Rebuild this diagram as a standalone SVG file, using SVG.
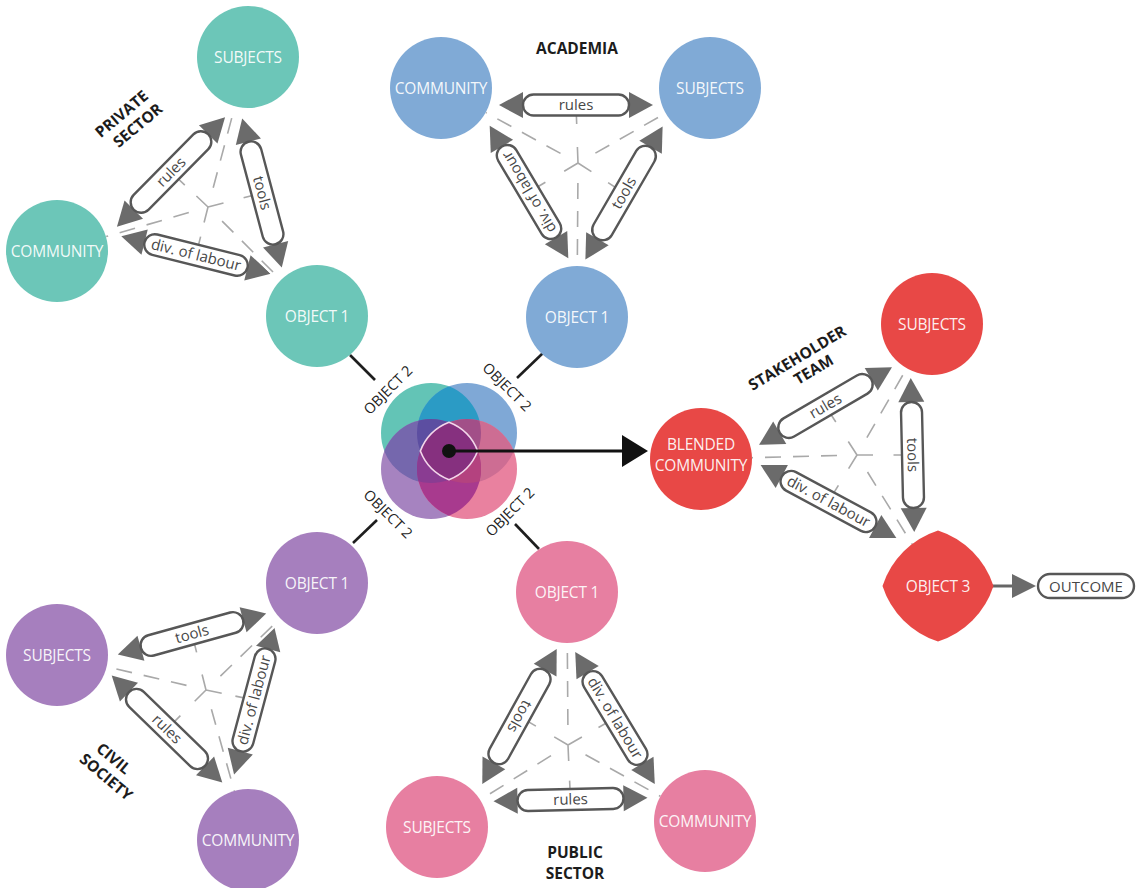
<svg xmlns="http://www.w3.org/2000/svg" width="1136" height="888" viewBox="0 0 1136 888">
<style>
.ah{fill:#6b6b6b}
.pill{fill:#fff;stroke:#575757;stroke-width:2.4}
.pt{font-family:"Open Sans","DejaVu Sans",sans-serif;font-size:15px;fill:#474747;text-anchor:middle}
.halo{stroke:#fff;stroke-width:6;fill:none}
.dash{stroke:#a9a9a9;stroke-width:1.6;stroke-dasharray:16 12;fill:none}
.tick{stroke:#a9a9a9;stroke-width:1.6;fill:none}
.nl{font-family:"Open Sans","DejaVu Sans",sans-serif;font-size:15.5px;fill:#fff;fill-opacity:0.93;text-anchor:middle;letter-spacing:-0.2px}
.sec{font-family:"Open Sans","DejaVu Sans",sans-serif;font-weight:700;font-size:15.5px;fill:#1c1c1c;text-anchor:middle}
.ob2{font-family:"Open Sans","DejaVu Sans",sans-serif;font-size:14.5px;fill:#222;text-anchor:middle}
.link{stroke:#1e1e1e;stroke-width:2.6}
.teal{fill:#6cc6b8}.blue{fill:#80aad6}.red{fill:#e84846}.purple{fill:#a67fbe}.pink{fill:#e77fa1}
</style>
<defs>
  <!-- double-headed relation band: two arrowheads with a label pill between them -->
  <g id="band">
    <polygon class="ah" points="-77,0 -53,-13 -53,13"/>
    <polygon class="ah" points="77,0 53,-13 53,13"/>
    <rect class="pill" x="-53" y="-10.5" width="106" height="21" rx="10.5"/>
  </g>
  <clipPath id="cT"><circle cx="431" cy="433" r="50"/></clipPath>
  <clipPath id="cB"><circle cx="467" cy="433" r="50"/></clipPath>
  <clipPath id="cP"><circle cx="431" cy="469" r="50"/></clipPath>
  <clipPath id="cK"><circle cx="467" cy="469" r="50"/></clipPath>
</defs>
<rect width="1136" height="888" fill="#fff"/>

<g id="connectors">
  <!-- centre marks and perpendicular ticks towards each band -->
  <g id="ticks">
    <path class="tick" d="M208,207L196.4,196M208,207L223.5,203M208,207L204.1,222.5M184.8,185.1L171,172M243.6,197.8L262,193M200.6,236.6L196,255"/>
    <path class="tick" d="M578,163L577.4,147M578,163L591.4,171.7M578,163L564.2,171.2M576.7,124L576,105M608.1,182.6L624,193M545.4,182.3L529,192"/>
    <path class="tick" d="M857,455L848.3,441.5M857,455L873,455M857,455L848.6,468.7M835.8,422L825.5,406M893.5,455L912.5,455M838.4,485.3L828.5,501.5"/>
    <path class="tick" d="M206,690L202.1,674.5M206,690L194.7,701.3M206,690L221.7,693.3M196.6,652.4L192,634M180.4,715.6L167,729M235.4,696.1L254,700"/>
    <path class="tick" d="M568,745L554.2,736.9M568,745L581.9,737M568,745L568.7,761M535.9,726.1L519.5,716.5M598.5,727.5L615,718M569.6,780.6L570.5,799.5"/>
  </g>

  <!-- private sector bands -->
  <g transform="translate(171,172) rotate(-45.4)"><use href="#band"/><text class="pt" y="5">rules</text></g>
  <g transform="translate(262,193) rotate(75.1)"><use href="#band"/><text class="pt" y="5">tools</text></g>
  <g transform="translate(196,255) rotate(14)"><use href="#band"/><text class="pt" y="5">div. of labour</text></g>
  <!-- academia bands -->
  <g transform="translate(576,105)"><use href="#band"/><text class="pt" y="5">rules</text></g>
  <g transform="translate(624,193) rotate(-59.9)"><use href="#band"/><text class="pt" y="5">tools</text></g>
  <g transform="translate(529,192) rotate(-120.7)"><use href="#band"/><text class="pt" y="5">div. of labour</text></g>
  <!-- stakeholder team bands -->
  <g transform="translate(825.5,406) rotate(-30.3)"><use href="#band"/><text class="pt" y="5">rules</text></g>
  <g transform="translate(912.5,455) rotate(88.7)"><use href="#band"/><text class="pt" y="5">tools</text></g>
  <g transform="translate(828.5,501.5) rotate(28.2)"><use href="#band"/><text class="pt" y="5">div. of labour</text></g>
  <!-- civil society bands -->
  <g transform="translate(192,634) rotate(-15.5)"><use href="#band"/><text class="pt" y="5">tools</text></g>
  <g transform="translate(167,729) rotate(44.1)"><use href="#band"/><text class="pt" y="5">rules</text></g>
  <g transform="translate(254,700) rotate(-75)"><use href="#band"/><text class="pt" y="5">div. of labour</text></g>
  <!-- public sector bands -->
  <g transform="translate(519.5,716.5) rotate(118.9)"><use href="#band"/><text class="pt" y="5">tools</text></g>
  <g transform="translate(615,718) rotate(58.9)"><use href="#band"/><text class="pt" y="5">div. of labour</text></g>
  <g transform="translate(570.5,799.5) rotate(-1.3)"><use href="#band"/><text class="pt" y="5">rules</text></g>

  <!-- dashed spokes from each centre to the vertices -->
  <g id="spokes">
    <path class="halo" d="M213.2,187.7L234.8,106.5M188.8,212.6L106.2,236.6M222.1,221.1L280.8,279.8M560.5,153.4L485.9,112.6M595.4,153.1L665.6,113.2M577.9,183L577.3,266M866.9,437.7L906.7,368.3M837,455.5L752,457.7M867.5,472L912.2,544.3M220.4,676.1L280.1,618.5M186.5,685.4L106.7,666.7M211.4,709.3L234.3,790.9M567.9,725L567.3,643M551,755.6L480.2,799.9M585.5,754.7L660.4,796.3"/>
    <path class="dash" d="M213.2,187.7L234.8,106.5M188.8,212.6L106.2,236.6M222.1,221.1L280.8,279.8M560.5,153.4L485.9,112.6M595.4,153.1L665.6,113.2M577.9,183L577.3,266M866.9,437.7L906.7,368.3M837,455.5L752,457.7M867.5,472L912.2,544.3M220.4,676.1L280.1,618.5M186.5,685.4L106.7,666.7M211.4,709.3L234.3,790.9M567.9,725L567.3,643M551,755.6L480.2,799.9M585.5,754.7L660.4,796.3"/>
  </g>

  <!-- object 1 to shared object 2 links -->
  <line class="link" x1="350" y1="355" x2="375" y2="380"/>
  <line class="link" x1="543" y1="353" x2="517" y2="378"/>
  <line class="link" x1="377" y1="520" x2="353" y2="543"/>
  <line class="link" x1="515" y1="524" x2="539" y2="549"/>
  <text class="ob2" transform="translate(388,390) rotate(-45)" y="5">OBJECT 2</text>
  <text class="ob2" transform="translate(507,387) rotate(45)" y="5">OBJECT 2</text>
  <text class="ob2" transform="translate(388,514) rotate(45)" y="5">OBJECT 2</text>
  <text class="ob2" transform="translate(510,512) rotate(-45)" y="5">OBJECT 2</text>

  <!-- outcome arrow -->
  <line x1="992" y1="586" x2="1014" y2="586" stroke="#666" stroke-width="3"/>
  <polygon class="ah" points="1012,574 1036,586 1012,598"/>
</g>

<!-- shared object 2: four overlapping circles -->
<g id="object2-blend">
  <circle cx="431" cy="433" r="50" fill="#63c4b6"/>
  <circle cx="467" cy="433" r="50" fill="#7fa8d6"/>
  <circle cx="431" cy="469" r="50" fill="#a683c0"/>
  <circle cx="467" cy="469" r="50" fill="#e9819f"/>
  <circle cx="431" cy="433" r="50" fill="#2b9bc5" clip-path="url(#cB)"/>
  <circle cx="431" cy="433" r="50" fill="#7567ad" clip-path="url(#cP)"/>
  <circle cx="467" cy="433" r="50" fill="#cd6d93" clip-path="url(#cK)"/>
  <circle cx="431" cy="469" r="50" fill="#a83a8e" clip-path="url(#cK)"/>
  <g clip-path="url(#cP)"><circle cx="431" cy="433" r="50" fill="#5c4ea1" clip-path="url(#cB)"/></g>
  <g clip-path="url(#cK)"><circle cx="431" cy="433" r="50" fill="#a24f88" clip-path="url(#cB)"/></g>
  <g clip-path="url(#cK)"><circle cx="431" cy="433" r="50" fill="#8a3c92" clip-path="url(#cP)"/></g>
  <g clip-path="url(#cK)"><circle cx="467" cy="433" r="50" fill="#b4427f" clip-path="url(#cP)"/></g>
  <path d="M449,422.35A50,50 0 0 1 477.65,451A50,50 0 0 1 449,479.65A50,50 0 0 1 420.35,451A50,50 0 0 1 449,422.35Z" fill="#86307f" stroke="#f3d6ea" stroke-width="1.6"/>
</g>

<!-- blend arrow to the stakeholder team -->
<g id="blend-arrow">
  <line x1="449" y1="451" x2="624" y2="451" stroke="#111" stroke-width="3"/>
  <polygon points="622,435 648,451 622,467" fill="#111"/>
  <circle cx="449" cy="451" r="7" fill="#111"/>
</g>

<!-- private sector -->
<g id="private-subjects"><circle class="teal" cx="248" cy="57" r="51"/><text class="nl" x="248" y="62.5">SUBJECTS</text></g>
<g id="private-community"><circle class="teal" cx="57" cy="251" r="51"/><text class="nl" x="57" y="256.5">COMMUNITY</text></g>
<g id="private-object1"><circle class="teal" cx="317" cy="316" r="51"/><text class="nl" x="317" y="321.5">OBJECT 1</text></g>
<g id="private-label"><g transform="translate(130,120) rotate(-40)"><text class="sec" x="-2.5" y="-4.5">PRIVATE</text><text class="sec" x="2.5" y="14.5">SECTOR</text></g></g>

<!-- academia -->
<g id="academia-community"><circle class="blue" cx="441" cy="88" r="51"/><text class="nl" x="441" y="93.5">COMMUNITY</text></g>
<g id="academia-subjects"><circle class="blue" cx="710" cy="88" r="51"/><text class="nl" x="710" y="93.5">SUBJECTS</text></g>
<g id="academia-object1"><circle class="blue" cx="577" cy="317" r="51"/><text class="nl" x="577" y="322.5">OBJECT 1</text></g>
<g id="academia-label"><text class="sec" x="577" y="54">ACADEMIA</text></g>

<!-- stakeholder team -->
<g id="team-subjects"><circle class="red" cx="932" cy="324" r="51"/><text class="nl" x="932" y="329.5" fill="#fbe1da">SUBJECTS</text></g>
<g id="team-community"><circle class="red" cx="701" cy="459" r="51"/><text class="nl" x="701" y="450">BLENDED</text><text class="nl" x="701" y="471">COMMUNITY</text></g>
<g id="team-object3"><path class="red" d="M938,530.5A86,86 0 0 1 993.5,586A86,86 0 0 1 938,641.5A86,86 0 0 1 882.5,586A86,86 0 0 1 938,530.5Z"/><text class="nl" x="938" y="591.5">OBJECT 3</text></g>
<g id="team-label"><g transform="translate(802,366) rotate(-31)"><text class="sec" y="-4">STAKEHOLDER</text><text class="sec" x="8" y="14.5">TEAM</text></g></g>
<g id="outcome"><rect class="pill" x="1038" y="574" width="96" height="24" rx="12"/><text class="pt" x="1086" y="591.5">OUTCOME</text></g>

<!-- civil society -->
<g id="civil-object1"><circle class="purple" cx="317" cy="583" r="51"/><text class="nl" x="317" y="588.5">OBJECT 1</text></g>
<g id="civil-subjects"><circle class="purple" cx="57" cy="655" r="51"/><text class="nl" x="57" y="660.5">SUBJECTS</text></g>
<g id="civil-community"><circle class="purple" cx="248" cy="840" r="51"/><text class="nl" x="248" y="845.5">COMMUNITY</text></g>
<g id="civil-label"><g transform="translate(112,770) rotate(40)"><text class="sec" x="-6" y="-4.5">CIVIL</text><text class="sec" y="14.5">SOCIETY</text></g></g>

<!-- public sector -->
<g id="public-object1"><circle class="pink" cx="567" cy="592" r="51"/><text class="nl" x="567" y="597.5">OBJECT 1</text></g>
<g id="public-subjects"><circle class="pink" cx="437" cy="827" r="51"/><text class="nl" x="437" y="832.5">SUBJECTS</text></g>
<g id="public-community"><circle class="pink" cx="705" cy="821" r="51"/><text class="nl" x="705" y="826.5">COMMUNITY</text></g>
<g id="public-label"><text class="sec" x="575" y="858">PUBLIC</text><text class="sec" x="575" y="879">SECTOR</text></g>
</svg>
